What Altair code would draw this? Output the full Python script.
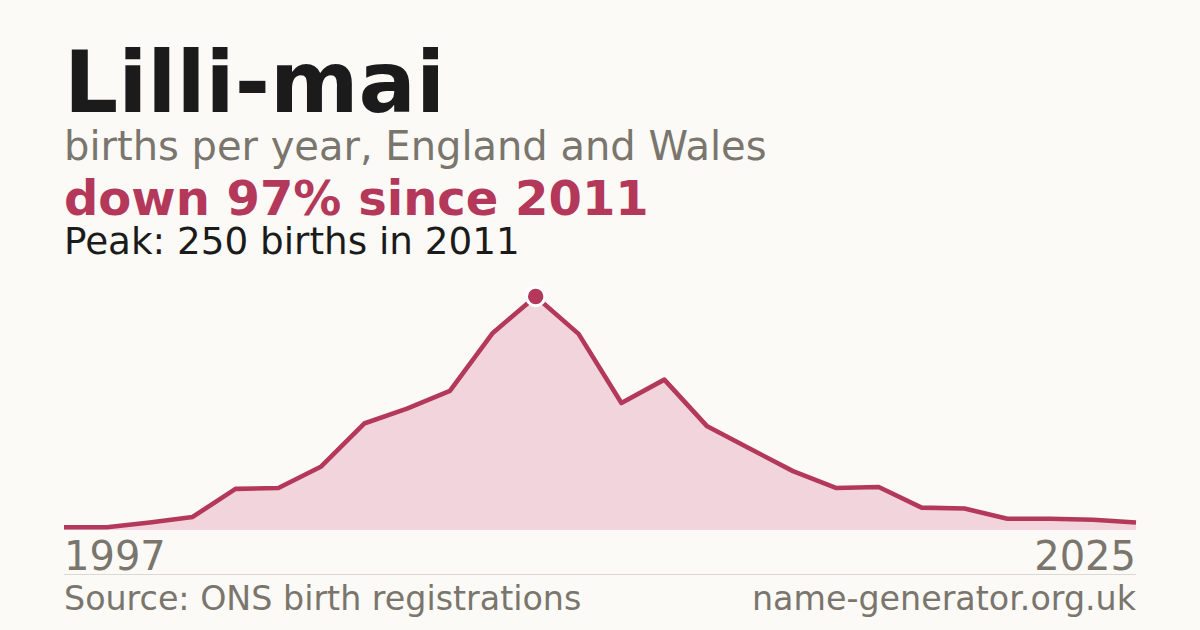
import altair as alt
import pandas as pd
import jinja2

# Data (births per year, evenly spaced points)
point_index = list(range(26))
births = [3, 3, 8, 14, 44, 45, 68, 114, 130, 149, 211, 250, 210,
          136, 161, 111, 87, 63, 45, 46, 24, 23, 12, 12, 11, 8]
tick_labels = ["1997", "2025"]

title_text = "Lilli-mai"
subtitle_text = "births per year, England and Wales"
change_text = "down 97% since 2011"
peak_text = "Peak: 250 births in 2011"
source_text = "Source: ONS birth registrations"
site_text = "name-generator.org.uk"

df = pd.DataFrame({"i": point_index, "v": births})
peak_df = df[df["v"] == df["v"].max()]

BG = "#fbfaf6"
RED = "#b3385a"
FILL = "#f2d5dc"
GREY = "#7a756d"
DARK = "#1b1b1b"
FONT = "DejaVu Sans"
OFF = 8  # page margin

xs = alt.X("i:Q", scale=alt.Scale(domain=[0, 25], range=[64 - OFF, 1136 - OFF]), axis=None)
ys = alt.Y("v:Q", scale=alt.Scale(domain=[0, 250], range=[530 - OFF, 296.5 - OFF]), axis=None)

base = alt.Chart(df)
area = base.mark_area(color=FILL, opacity=1).encode(x=xs, y=ys, y2=alt.datum(0))
line = base.mark_line(color=RED, strokeWidth=4.6, strokeJoin="round").encode(x=xs, y=ys)
dot = alt.Chart(peak_df).mark_circle(
    color=RED, opacity=1, size=340, stroke="white", strokeWidth=3
).encode(x=xs, y=ys)


def label(txt, x, y, size, color, weight="normal", align="left"):
    return alt.Chart(alt.Data(values=[{"t": txt}])).mark_text(
        align=align, baseline="alphabetic", font=FONT, fontSize=size,
        fontWeight=weight, color=color
    ).encode(x=alt.value(x - OFF), y=alt.value(y - OFF), text="t:N")


sep = alt.Chart(alt.Data(values=[{"a": 1}])).mark_rule(color="#dcd9d2", strokeWidth=1).encode(
    x=alt.value(64 - OFF), x2=alt.value(1136 - OFF), y=alt.value(574.5 - OFF)
)

layers = [
    area, line, dot, sep,
    label(title_text, 64, 112, 85, DARK, "bold"),
    label(subtitle_text, 64, 160, 40, GREY),
    label(change_text, 64, 215, 48, RED, "bold"),
    label(peak_text, 64, 254, 37.3, DARK),
    label(tick_labels[0], 64, 570, 40, GREY),
    label(tick_labels[1], 1136, 570, 40, GREY, align="right"),
    label(source_text, 64, 610, 33.3, GREY),
    label(site_text, 1136, 610, 33.3, GREY, align="right"),
]

chart = alt.layer(*layers).properties(
    width=1184, height=614, padding=0, autosize="none", background=BG
).configure_view(strokeWidth=0)

page_template = jinja2.Template("""<!DOCTYPE html>
<html>
<head>
  <meta charset="utf-8">
  <style>
    body { background: """ + BG + """; }
    #{{ output_div }}.vega-embed { width: 100%; display: flex; }
  </style>
  <script type="text/javascript" src="{{ base_url }}/vega@{{ vega_version }}"></script>
  <script type="text/javascript" src="{{ base_url }}/vega-lite@{{ vegalite_version }}"></script>
  <script type="text/javascript" src="{{ base_url }}/vega-embed@{{ vegaembed_version }}"></script>
</head>
<body>
  <div id="{{ output_div }}"></div>
  <script type="text/javascript">
    var spec = {{ spec }};
    var embedOpt = {{ embed_options }};
    vegaEmbed("#{{ output_div }}", spec, embedOpt).catch(console.error);
  </script>
</body>
</html>
""")

chart.save("out.html", embed_options={"renderer": "svg", "actions": False}, template=page_template)
